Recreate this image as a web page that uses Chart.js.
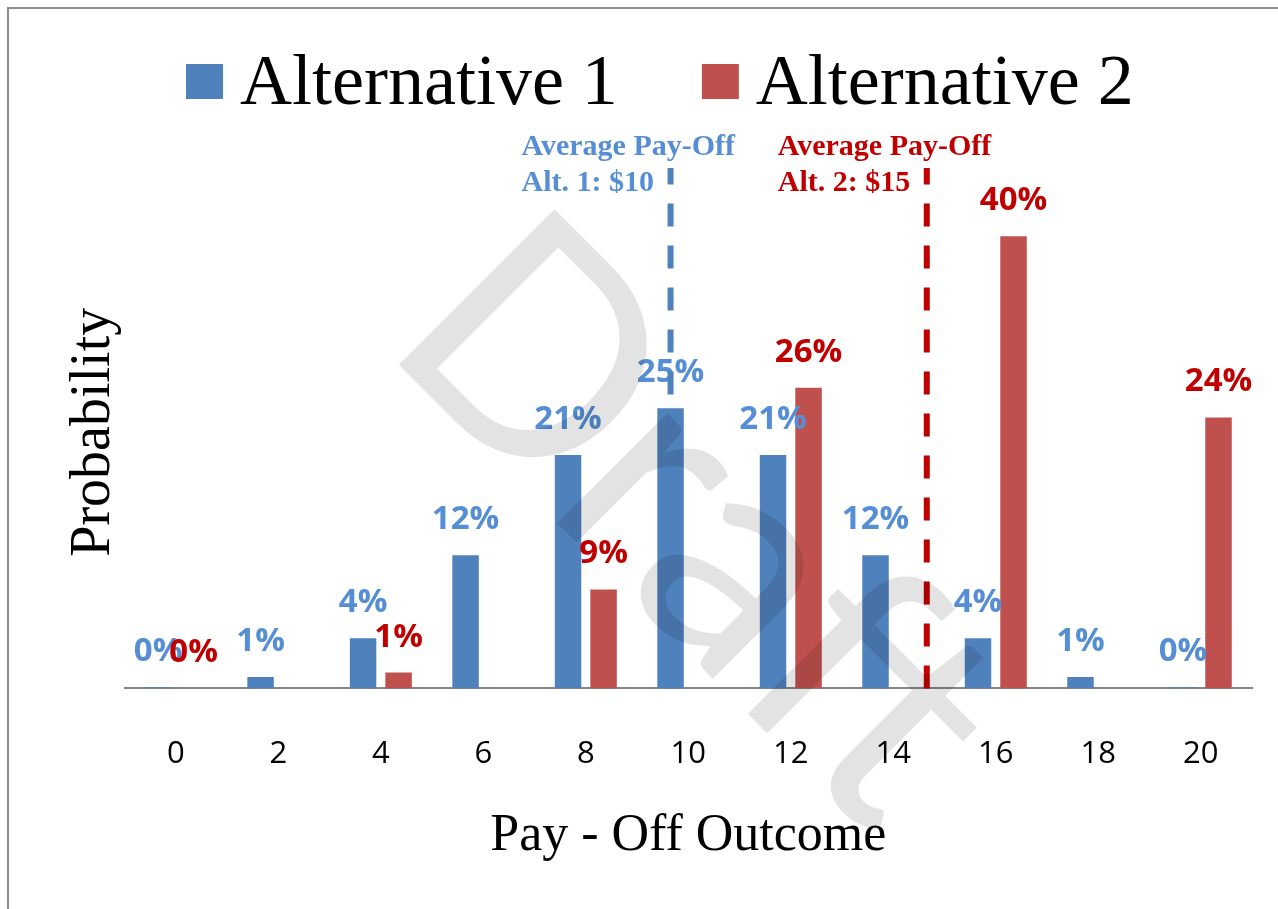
<!DOCTYPE html>
<html lang="en">
<head>
    <meta charset="UTF-8">
    <title>Pay-Off Outcome Probabilities</title>
    <script src="https://cdn.jsdelivr.net/npm/chart.js"></script>
    <style>
        html, body {
            margin: 0;
            padding: 0;
            background: #fff;
        }
        body {
            width: 1278px;
            height: 909px;
            overflow: hidden;
            position: relative;
        }
        .frame {
            position: absolute;
            left: 7px;
            top: 7px;
            width: 1320px;
            height: 960px;
            border: 2px solid #8c8c8c;
            box-sizing: border-box;
        }
        #chart {
            position: absolute;
            left: 0;
            top: 0;
        }
    </style>
</head>
<body>
    <div class="frame"></div>
    <canvas id="chart" width="1278" height="909"></canvas>

    <script>
        // Data (percent)
        const payoffs = ['0', '2', '4', '6', '8', '10', '12', '14', '16', '18', '20'];
        const alt1Values = [0.1, 1.0, 4.4, 11.7, 20.5, 24.6, 20.5, 11.7, 4.4, 1.0, 0.1];
        const alt2Values = [0, null, 1.4, null, 8.7, null, 26.4, null, 39.7, null, 23.8];
        const seriesNames = ['Alternative 1', 'Alternative 2'];
        const averagePayoffs = [10, 15];
        const averageNotes = [
            ['Average Pay-Off', 'Alt. 1: $10'],
            ['Average Pay-Off', 'Alt. 2: $15']
        ];

        const barColors = ['#4F81BD', '#C0504D'];
        const labelColors = ['#558ED5', '#C00000'];
        const lineColors = ['#4F81BD', '#C00000'];

        // labels, average lines, legend and the watermark
        const overlayPlugin = {
            id: 'overlay',
            afterDatasetsDraw(chart) {
                const ctx = chart.ctx;
                const x = chart.scales.x;
                const y = chart.scales.y;

                ctx.save();
                ctx.font = 'bold 33px "Open Sans"';
                ctx.textAlign = 'center';
                ctx.textBaseline = 'alphabetic';
                chart.data.datasets.forEach((ds, i) => {
                    ctx.fillStyle = labelColors[i];
                    chart.getDatasetMeta(i).data.forEach((bar, j) => {
                        const v = ds.data[j];
                        if (v === null) return;
                        ctx.fillText(Math.round(v) + '%', bar.x, bar.y - 26);
                    });
                });

                // dashed average lines sit on the Alt. 1 bar position
                const shift = chart.getDatasetMeta(0).data[0].x - x.getPixelForValue(0);
                const step = Number(payoffs[1]) - Number(payoffs[0]);
                const base = y.getPixelForValue(0);
                averagePayoffs.forEach((p, i) => {
                    const px = x.getPixelForValue((p - Number(payoffs[0])) / step) + shift;
                    ctx.strokeStyle = lineColors[i];
                    ctx.lineWidth = 6;
                    ctx.setLineDash([23, 19]);
                    ctx.beginPath();
                    ctx.moveTo(px, base);
                    ctx.lineTo(px, 168);
                    ctx.stroke();

                    ctx.setLineDash([]);
                    ctx.fillStyle = labelColors[i];
                    ctx.font = 'bold 30px "Liberation Serif"';
                    ctx.textAlign = 'left';
                    ctx.fillText(averageNotes[i][0], px - 149, 155);
                    ctx.fillText(averageNotes[i][1], px - 149, 191);
                });
                ctx.restore();
            },
            afterDraw(chart) {
                const ctx = chart.ctx;
                ctx.save();

                // legend
                ctx.font = '72px "Liberation Serif"';
                ctx.textAlign = 'left';
                ctx.textBaseline = 'alphabetic';
                let lx = 186;
                chart.data.datasets.forEach((ds) => {
                    ctx.fillStyle = ds.backgroundColor;
                    ctx.fillRect(lx, 64, 37, 35);
                    ctx.fillStyle = '#000';
                    ctx.fillText(ds.label, lx + 54, 104);
                    lx += 54 + ctx.measureText(ds.label).width + 84;
                });

                // watermark
                ctx.translate(379, 345);
                ctx.rotate(Math.PI / 4);
                ctx.font = '307px Lato';
                ctx.fillStyle = 'rgba(0, 0, 0, 0.11)';
                ctx.fillText('Draft', 0, 0);
                ctx.restore();
            }
        };

        const chart = new Chart(document.getElementById('chart'), {
            type: 'bar',
            data: {
                labels: payoffs,
                datasets: [
                    { label: seriesNames[0], data: alt1Values, backgroundColor: barColors[0] },
                    { label: seriesNames[1], data: alt2Values, backgroundColor: barColors[1] }
                ]
            },
            options: {
                responsive: false,
                animation: false,
                devicePixelRatio: 1,
                categoryPercentage: 0.693,
                barPercentage: 0.746,
                layout: { padding: { left: 63, right: 26, top: 176, bottom: 55 } },
                plugins: {
                    legend: { display: false },
                    tooltip: { enabled: false }
                },
                scales: {
                    x: {
                        grid: { display: false, drawTicks: false },
                        border: { display: true, color: '#868686', width: 2 },
                        ticks: {
                            color: '#000',
                            font: { family: 'Open Sans', size: 31 },
                            padding: 47
                        },
                        title: {
                            display: true,
                            text: 'Pay - Off Outcome',
                            color: '#000',
                            font: { family: 'Liberation Serif', size: 52, lineHeight: 0.66 },
                            padding: { top: 0, bottom: 0 }
                        }
                    },
                    y: {
                        min: 0,
                        max: 45,
                        grid: { display: false, drawTicks: false },
                        border: { display: false },
                        ticks: { display: false },
                        title: {
                            display: true,
                            text: 'Probability',
                            color: '#000',
                            font: { family: 'Liberation Serif', size: 56, lineHeight: 1.1 },
                            padding: { top: 0, bottom: 0 }
                        }
                    }
                }
            },
            plugins: [overlayPlugin]
        });
    </script>
</body>
</html>
